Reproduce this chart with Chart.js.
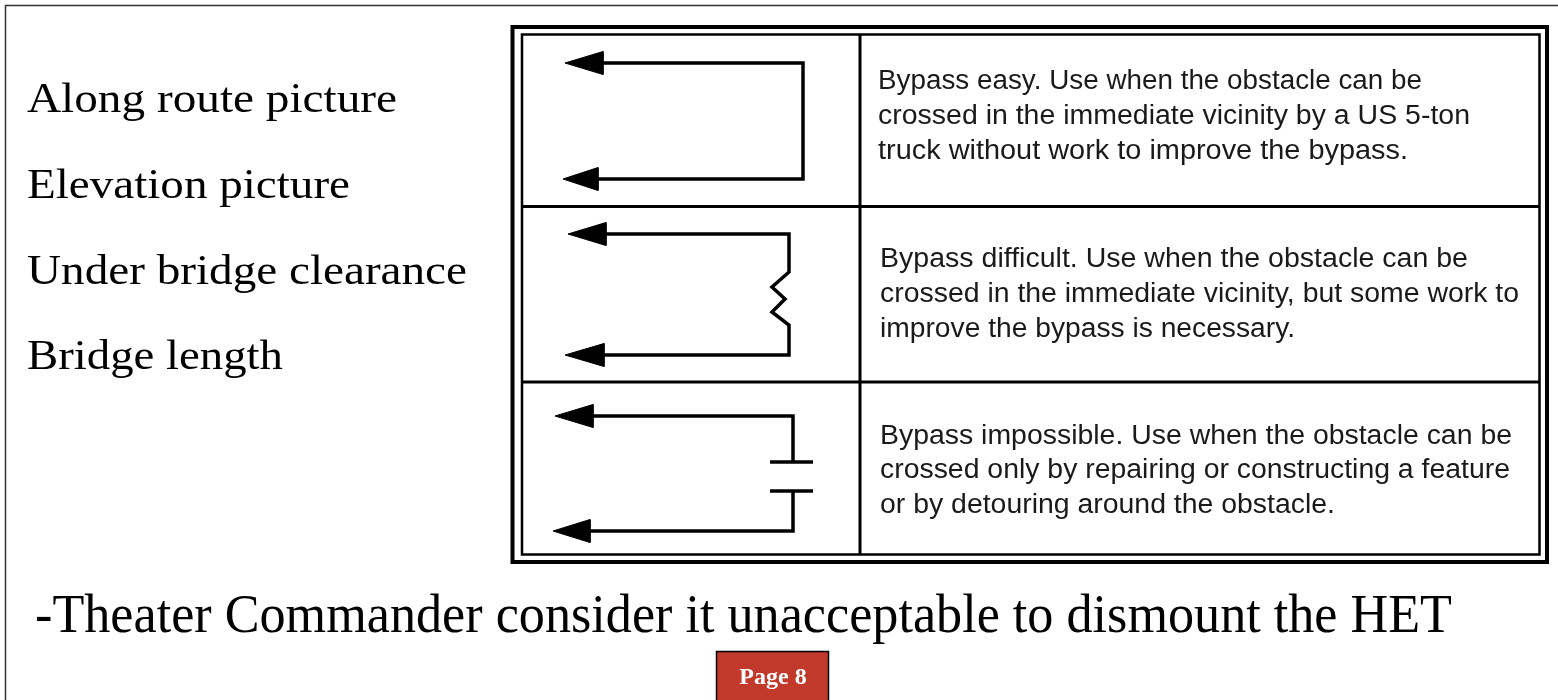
<!DOCTYPE html>
<html>
<head>
<meta charset="utf-8">
<script src="https://cdn.jsdelivr.net/npm/chart.js@4/dist/chart.umd.min.js"></script>
<style>
  html,body{margin:0;padding:0;background:#fff;width:1558px;height:700px;overflow:hidden;}
  #wrap{position:relative;width:1558px;height:700px;}
  #chart{position:absolute;left:0;top:0;}
  #over{position:absolute;left:0;top:0;}
</style>
</head>
<body>
<div id="wrap">
  <canvas id="chart" width="1558" height="700"></canvas>
  <svg id="over" width="1558" height="700" xmlns="http://www.w3.org/2000/svg"></svg>
</div>
<script>
// ---------------- content ----------------
const leftItems = ['Along route picture', 'Elevation picture', 'Under bridge clearance', 'Bridge length'];
const rowNames = ['Bypass easy', 'Bypass difficult', 'Bypass impossible'];
const rowText = [
  ['Bypass easy. Use when the obstacle can be',
   'crossed in the immediate vicinity by a US 5-ton',
   'truck without work to improve the bypass.'],
  ['Bypass difficult. Use when the obstacle can be',
   'crossed in the immediate vicinity, but some work to',
   'improve the bypass is necessary.'],
  ['Bypass impossible. Use when the obstacle can be',
   'crossed only by repairing or constructing a feature',
   'or by detouring around the obstacle.']
];
const footerText = '-Theater Commander consider it unacceptable to dismount the HET';
const pageLabel = 'Page 8';

// Symbol shapes, in local units inside each symbol cell (x right, y down)
const easyRoute      = [[81,30],[281,30],[281,146],[76,146]];
const difficultRoute = [[84,27],[267,27],[267,65],[250,80],[263,92],[250,105],[267,118],[267,148],[82,148]];
const impossibleTop  = [[71,34],[271,34],[271,80]];
const impossibleCap1 = [[248,80],[291,80]];
const impossibleCap2 = [[248,109],[291,109]];
const impossibleBot  = [[271,109],[271,149],[68,149]];
// arrowheads: [tipX, baseX, y]
const easyArrows       = [[43,81,30],[41,76,146]];
const difficultArrows  = [[46,84,27],[43,82,148]];
const impossibleArrows = [[33,71,34],[31,68,149]];

const symbolPaths  = [[easyRoute],[difficultRoute],[impossibleTop, impossibleCap1, impossibleCap2, impossibleBot]];
const symbolArrows = [easyArrows, difficultArrows, impossibleArrows];

// ---------------- layout ----------------
const L = {
  cellLeft: 522,
  rowTops: [33, 207, 382],
  arrowHalf: 11.5,
  lineW: 3.5
};

// ---------------- Chart.js symbols ----------------
const datasets = [];
symbolPaths.forEach((paths, r) => {
  const ox = L.cellLeft, oy = L.rowTops[r];
  paths.forEach(p => {
    datasets.push({
      label: rowNames[r],
      data: p.map(([x, y]) => ({x: x + ox, y: y + oy})),
      showLine: true, fill: false,
      borderColor: '#000', borderWidth: L.lineW,
      borderJoinStyle: 'miter', borderCapStyle: 'butt',
      pointRadius: 0, tension: 0
    });
  });
  symbolArrows[r].forEach(([tx, bx, y]) => {
    const pts = [[tx, y], [bx, y - L.arrowHalf], [bx, y + L.arrowHalf], [tx, y]];
    datasets.push({
      label: rowNames[r] + ' arrow',
      data: pts.map(([x, yy]) => ({x: x + ox, y: yy + oy})),
      showLine: true, fill: 'shape',
      backgroundColor: '#000', borderColor: '#000', borderWidth: 1,
      borderJoinStyle: 'miter',
      pointRadius: 0, tension: 0
    });
  });
});

new Chart(document.getElementById('chart'), {
  type: 'scatter',
  data: {datasets},
  options: {
    responsive: false, animation: false, events: [],
    layout: {padding: 0},
    plugins: {legend: {display: false}, tooltip: {enabled: false}},
    scales: {
      x: {type: 'linear', min: 0, max: 1558, display: false},
      y: {type: 'linear', min: 0, max: 700, reverse: true, display: false}
    }
  }
});

// ---------------- SVG frame + text ----------------
const NS = 'http://www.w3.org/2000/svg';
const svg = document.getElementById('over');
function el(tag, attrs, text) {
  const e = document.createElementNS(NS, tag);
  for (const k in attrs) e.setAttribute(k, attrs[k]);
  if (text !== undefined) e.textContent = text;
  svg.appendChild(e);
  return e;
}
// slide border
el('path', {d: 'M5.5,700 L5.5,5.5 L1558,5.5', fill: 'none', stroke: '#333', 'stroke-width': 1.5});
// table double border
el('rect', {x: 512.5, y: 27, width: 1034.5, height: 535, fill: 'none', stroke: '#000', 'stroke-width': 4});
el('rect', {x: 522, y: 34.5, width: 1017.5, height: 520, fill: 'none', stroke: '#000', 'stroke-width': 2.5});
el('line', {x1: 860, y1: 34, x2: 860, y2: 555, stroke: '#000', 'stroke-width': 3});
el('line', {x1: 522, y1: 206.5, x2: 1540, y2: 206.5, stroke: '#000', 'stroke-width': 3});
el('line', {x1: 522, y1: 382, x2: 1540, y2: 382, stroke: '#000', 'stroke-width': 3});

// left text
const leftBase = [112, 198, 284, 369];
const leftW = [370, 323, 440, 256];
leftItems.forEach((t, i) => {
  el('text', {x: 27, y: leftBase[i], 'font-family': 'Liberation Serif, Times New Roman, serif',
    'font-size': 43, fill: '#000', textLength: leftW[i], lengthAdjust: 'spacingAndGlyphs'}, t);
});

// right text
const rightBase = [[89, 124, 159], [267, 302, 337], [444, 478, 513]];
const rightW = [[544, 592, 530], [588, 639, 415], [632, 630, 455]];
rowText.forEach((lines, r) => {
  lines.forEach((t, j) => {
    el('text', {x: r === 0 ? 878 : 880, y: rightBase[r][j], 'font-family': 'Liberation Sans, Arial, sans-serif',
      'font-size': 27, fill: '#1a1a1a', textLength: rightW[r][j], lengthAdjust: 'spacingAndGlyphs'}, t);
  });
});

// footer
el('text', {x: 35, y: 632, 'font-family': 'Liberation Serif, Times New Roman, serif',
  'font-size': 55, fill: '#000', textLength: 1417, lengthAdjust: 'spacingAndGlyphs'}, footerText);

// page box
el('rect', {x: 716.5, y: 651.5, width: 112, height: 60, fill: '#c1392b', stroke: '#000', 'stroke-width': 1.5});
el('text', {x: 773, y: 684, 'text-anchor': 'middle', 'font-family': 'Liberation Serif, Times New Roman, serif',
  'font-weight': 'bold', 'font-size': 24, fill: '#fff'}, pageLabel);
</script>
</body>
</html>
